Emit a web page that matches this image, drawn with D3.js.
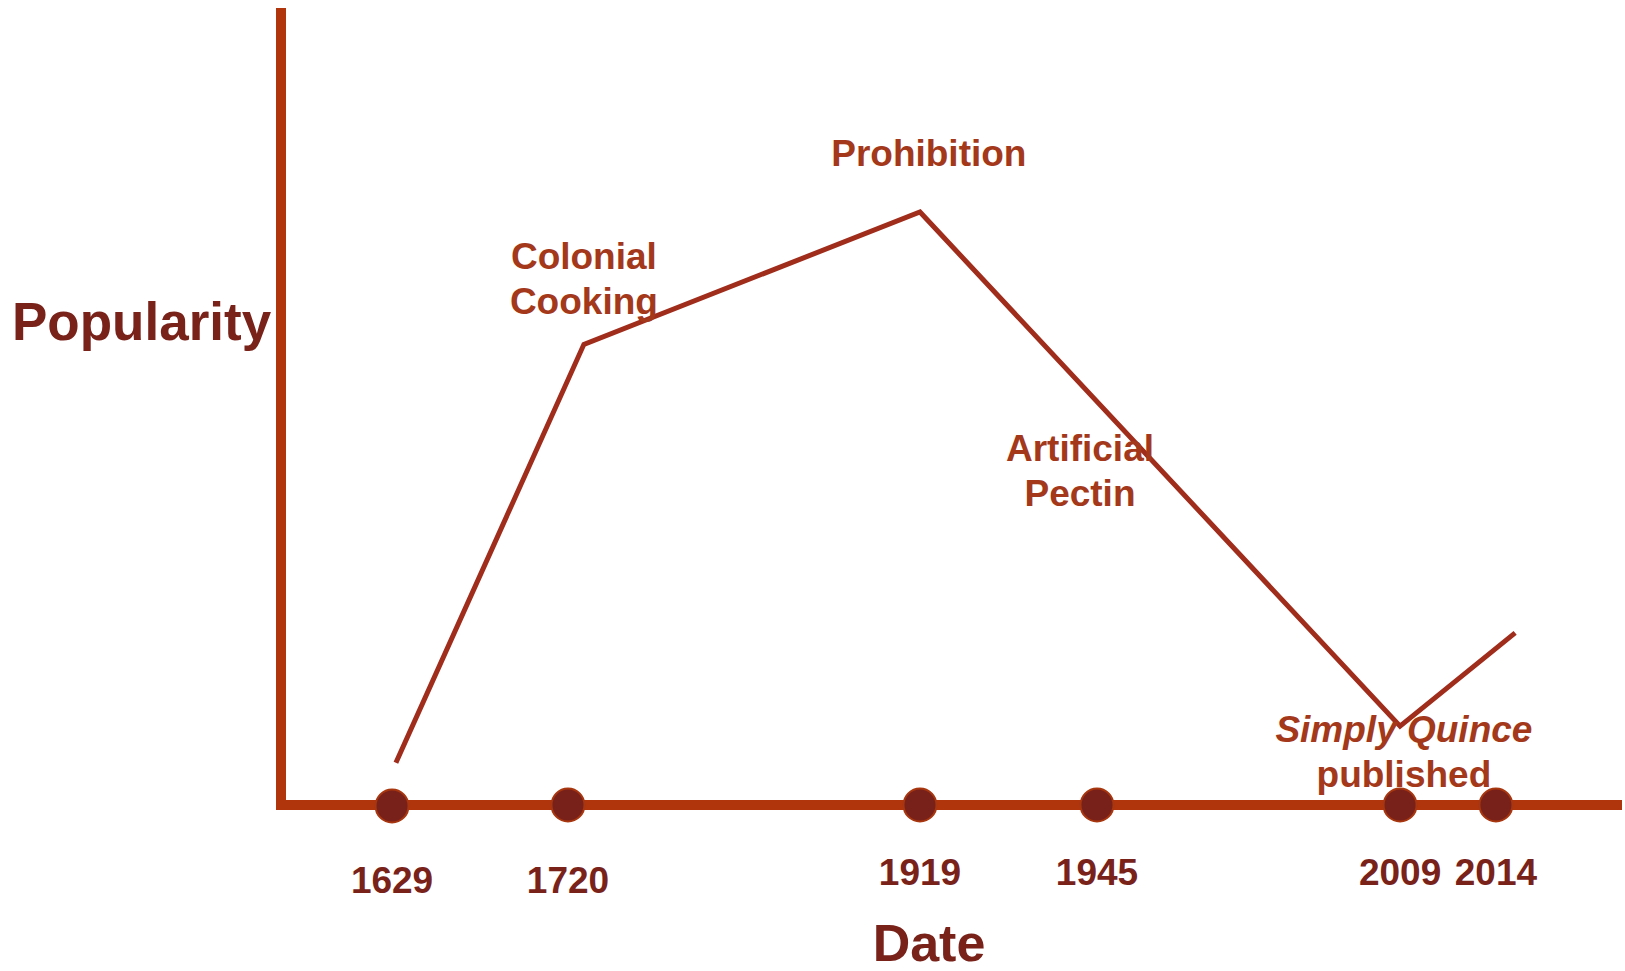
<!DOCTYPE html>
<html>
<head>
<meta charset="utf-8">
<script src="https://cdn.jsdelivr.net/npm/d3@7"></script>
<style>
  html, body { margin: 0; padding: 0; background: #fff; }
  svg { display: block; font-family: "Liberation Sans", Arial, sans-serif; font-weight: bold; }
</style>
</head>
<body>
<svg id="canvas" width="1625" height="971"></svg>
<script>
// timeline ticks
let years = [1629, 1720, 1919, 1945, 2009, 2014];
// popularity curve (arbitrary 0-100 scale)
let curveYears = [1631, 1729, 1919, 2009, 2015];
let curvePopularity = [5.3, 57.8, 74.4, 9.9, 21.6];
// annotations, anchored in data units
let noteLines = [['Colonial', 'Cooking'], ['Prohibition'], ['Artificial', 'Pectin'], ['Simply Quince', 'published']];
let noteYears = [1729, 1920.3, 1942.5, 2009.2];
let notePopularity = [67.3, 80.2, 43.2, 7.9];

let svg = d3.select('#canvas');
let plotLeft = 281, plotRight = 1622, plotTop = 8, plotBase = 805;
let axisColor = '#b0350c';
let lineColor = '#a02c1c';
let noteColor = '#a3381a';
let darkColor = '#78221a';

// the timeline is schematic, so the scale is piecewise
let frac = [0.0828, 0.214, 0.4765, 0.6085, 0.8345, 0.906];
let x = d3.scaleLinear()
          .domain(years)
          .range(frac.map(f => plotLeft + f * (plotRight - plotLeft)));
let y = d3.scaleLinear().domain([0, 100]).range([plotBase, plotTop]);

// axes
svg.append('line')
   .attr('x1', plotLeft).attr('x2', plotLeft)
   .attr('y1', y(100)).attr('y2', plotBase + 5)
   .attr('stroke', axisColor).attr('stroke-width', 10);
svg.append('line')
   .attr('x1', plotLeft - 5).attr('x2', plotRight)
   .attr('y1', plotBase).attr('y2', plotBase)
   .attr('stroke', axisColor).attr('stroke-width', 10);

// popularity line
let pts = curveYears.map((d, i) => [d, curvePopularity[i]]);
svg.append('path')
   .datum(pts)
   .attr('d', d3.line().x(d => x(d[0])).y(d => y(d[1])))
   .attr('fill', 'none')
   .attr('stroke', lineColor)
   .attr('stroke-width', 5);

// dots on the timeline
svg.selectAll('.dot')
   .data(years)
   .enter()
   .append('circle')
   .attr('class', 'dot')
   .attr('cx', d => x(d))
   .attr('cy', (d, i) => plotBase + (i == 0 ? 1 : 0))
   .attr('r', 16.5)
   .attr('fill', '#78211a')
   .attr('stroke', '#a8360f')
   .attr('stroke-width', 2);

// year labels
svg.selectAll('.year')
   .data(years)
   .enter()
   .append('text')
   .attr('class', 'year')
   .attr('x', d => x(d))
   .attr('y', d => d < 1800 ? plotBase + 88 : plotBase + 80)
   .attr('text-anchor', 'middle')
   .attr('font-size', 37)
   .attr('fill', darkColor)
   .text(d => d);

// annotations
let notes = svg.selectAll('.note')
   .data(noteLines)
   .enter()
   .append('text')
   .attr('class', 'note')
   .attr('text-anchor', 'middle')
   .attr('font-size', 37)
   .attr('fill', noteColor);
notes.each(function (lines, i) {
  let t = d3.select(this);
  lines.forEach((l, j) => {
    t.append('tspan')
     .attr('x', x(noteYears[i]))
     .attr('y', y(notePopularity[i]) + j * 45)
     .attr('font-style', l == 'Simply Quince' ? 'italic' : 'normal')
     .text(l);
  });
});

// axis titles
svg.append('text')
   .attr('x', 12)
   .attr('y', 340)
   .attr('font-size', 53)
   .attr('fill', darkColor)
   .text('Popularity');
svg.append('text')
   .attr('x', 929)
   .attr('y', 961)
   .attr('text-anchor', 'middle')
   .attr('font-size', 52)
   .attr('fill', darkColor)
   .text('Date');
</script>
</body>
</html>
